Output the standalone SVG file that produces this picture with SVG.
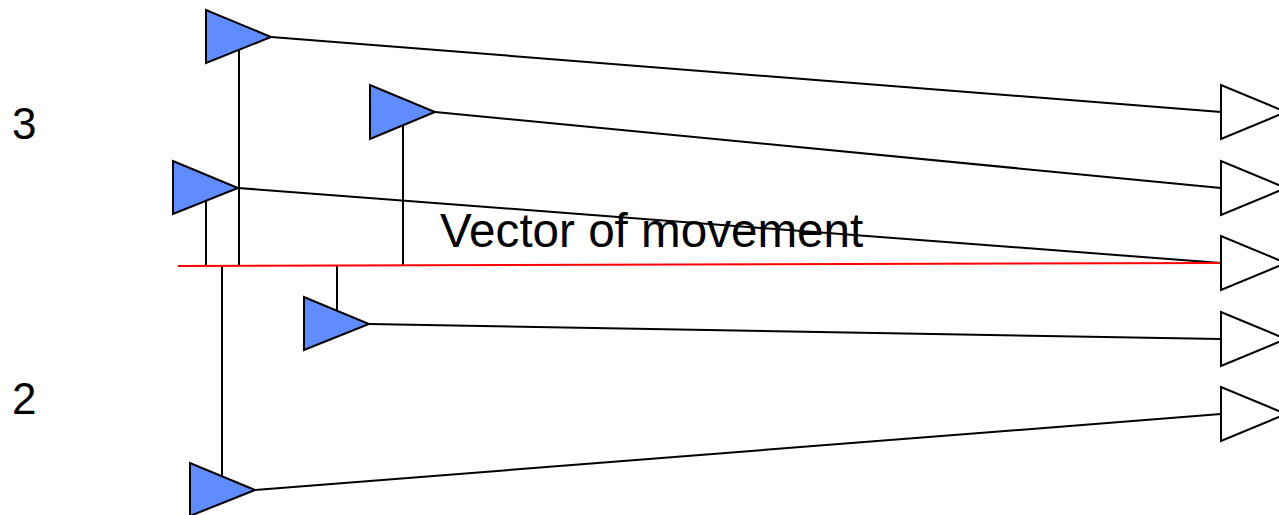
<svg xmlns="http://www.w3.org/2000/svg" width="1279" height="515" viewBox="0 0 1279 515">
<style>
.src{fill:#5f8dff;stroke:#000;stroke-width:2;stroke-linejoin:miter}
.dst{fill:#fff;stroke:#000;stroke-width:2}
.ln{stroke:#000;stroke-width:2;fill:none}
.red{stroke:#ff0000;stroke-width:2;fill:none}
.t{font-family:"Liberation Sans",Arial,sans-serif;fill:#000}
</style>
<rect width="1279" height="515" fill="#fff"/>
<g id="connectors">
<line class="ln" x1="271" y1="37" x2="1221" y2="112"/>
<line class="ln" x1="435" y1="112" x2="1221" y2="188"/>
<line class="ln" x1="238" y1="188" x2="1221" y2="263"/>
<line class="ln" x1="369" y1="324" x2="1221" y2="339"/>
<line class="ln" x1="255" y1="490" x2="1221" y2="414"/>
<line class="ln" x1="239" y1="50" x2="239" y2="266"/>
<line class="ln" x1="206" y1="201" x2="206" y2="266"/>
<line class="ln" x1="403" y1="125" x2="403" y2="266"/>
<line class="ln" x1="337" y1="266" x2="337" y2="311"/>
<line class="ln" x1="222" y1="266" x2="222" y2="476"/>
<line class="red" x1="178" y1="266" x2="1221" y2="263"/>
</g>
<g id="src1"><polygon class="src" points="206,10 206,63 271,37"/></g>
<g id="src2"><polygon class="src" points="173,161 173,214 238,188"/></g>
<g id="src3"><polygon class="src" points="370,85 370,139 435,112"/></g>
<g id="src4"><polygon class="src" points="304,297 304,350 369,324"/></g>
<g id="src5"><polygon class="src" points="190,463 190,516 255,490"/></g>
<g id="dstA"><polygon class="dst" points="1221,85 1221,139 1286,112"/></g>
<g id="dstB"><polygon class="dst" points="1221,161 1221,215 1286,188"/></g>
<g id="dstC"><polygon class="dst" points="1221,236 1221,290 1286,263"/></g>
<g id="dstD"><polygon class="dst" points="1221,312 1221,366 1286,339"/></g>
<g id="dstE"><polygon class="dst" points="1221,387 1221,441 1286,414"/></g>
<g id="labels">
<text class="t" x="440" y="247" font-size="47.6">Vector of movement</text>
<text class="t" x="12" y="139" font-size="44">3</text>
<text class="t" x="12" y="414" font-size="44">2</text>
</g>
</svg>
